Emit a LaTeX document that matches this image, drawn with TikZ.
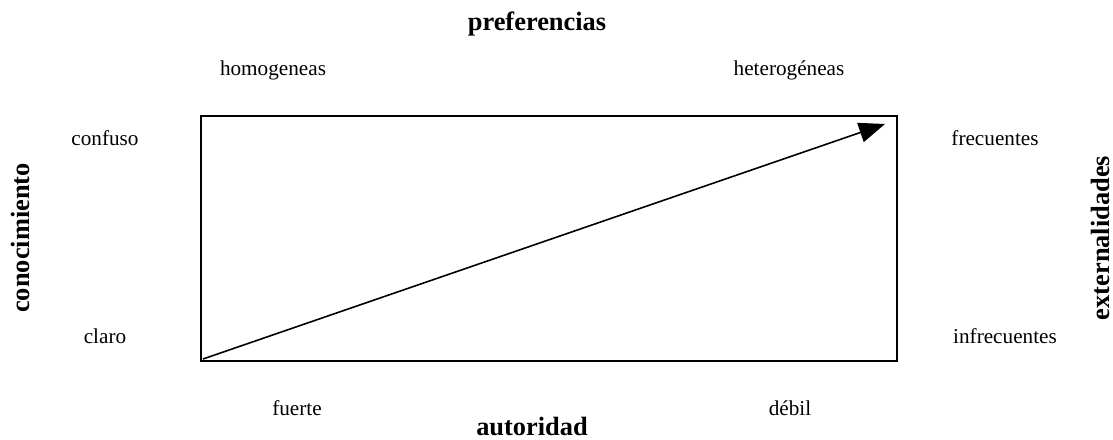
\documentclass[tikz,border=0pt]{standalone}
\usepackage{fontspec}
\setmainfont{Liberation Serif}
\usetikzlibrary{calc,positioning,arrows.meta}

\begin{document}
\begin{tikzpicture}[x=0.5pt,y=-0.5pt
        , every node/.style={font=\fontsize{10.6}{12}\selectfont, inner sep=0pt}
        , axis/.style={font=\fontsize{13.2}{15}\selectfont\bfseries}
        ]
        \useasboundingbox (0,0) rectangle (1113,439);

        \node (pref) [axis] at (537,24) {preferencias};
        \node (homog) at (273,70) {homogeneas};
        \node (heterog) at (789,70) {heterogéneas};

        \node (conoc) [axis,rotate=90] at (20,238) {conocimiento};
        \node (confuso) at (105,138) {confuso};
        \node (claro) at (105,336) {claro};

        \node (extern) [axis,rotate=90] at (1100,238) {externalidades};
        \node (frec) at (995,138) {frecuentes};
        \node (infrec) at (1005,336) {infrecuentes};

        \node (fuerte) at (297,408) {fuerte};
        \node (debil) at (790,408) {débil};
        \node (autor) [axis] at (532,426) {autoridad};

        \node (box) [draw,line width=1.2pt,minimum width=348pt,minimum height=122.5pt] at (549,238.5) {};
        \coordinate (start) at (203,359);
        \coordinate (tip) at (885,124);
        \draw[-{Triangle[length=13pt,width=10pt]},thick] (start) -- (tip);

    \end{tikzpicture}
\end{document}
